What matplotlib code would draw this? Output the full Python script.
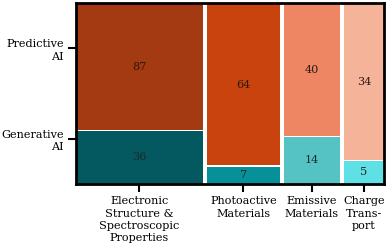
import numpy as np
import matplotlib.pyplot as plt

categories = ['Electronic\nStructure &\nSpectroscopic\nProperties',
              'Photoactive\nMaterials', 'Emissive\nMaterials', 'Charge\nTrans-\nport']
generative = [36, 7, 14, 5]
predictive = [87, 64, 40, 34]
row_labels = ['Generative\nAI', 'Predictive\nAI']

gen_colors = ['#03595f', '#06909a', '#55c3c3', '#5ee0e4']
pred_colors = ['#a33a12', '#c9430e', '#ee8563', '#f5b39a']

plt.rcParams['font.family'] = 'DejaVu Serif'
fs = 8.1

fig = plt.figure(figsize=(3.87, 2.47), dpi=100)
ax = fig.add_axes([0.197, 0.256, 0.795, 0.731])

gen = np.array(generative, float)
pred = np.array(predictive, float)
tot = gen + pred
xgap = 0.014
ygap = 0.006
widths = (1 - xgap * (len(tot) - 1)) * tot / tot.sum()
lefts = np.concatenate([[0], np.cumsum(widths + xgap)[:-1]])

for i in range(len(tot)):
    fg = gen[i] / tot[i]
    ax.bar(lefts[i], fg - ygap / 2, width=widths[i], bottom=0, align='edge',
           color=gen_colors[i], linewidth=0)
    ax.bar(lefts[i], 1 - fg - ygap / 2, width=widths[i], bottom=fg + ygap / 2,
           align='edge', color=pred_colors[i], linewidth=0)
    cx = lefts[i] + widths[i] / 2
    ax.text(cx, fg / 2, str(generative[i]), ha='center', va='center',
            fontsize=fs, color='#1a2a2a')
    ax.text(cx, fg + (1 - fg) / 2, str(predictive[i]), ha='center', va='center',
            fontsize=fs, color='#2a1a10')

ax.set_xlim(0, 1)
ax.set_ylim(0, 1)
ax.set_xticks(lefts + widths / 2)
ax.set_xticklabels(categories, fontsize=fs, linespacing=1.3)
ax.set_yticks([0.25, 0.75])
ax.set_yticklabels(row_labels, fontsize=fs, linespacing=1.3, multialignment='right')
ax.tick_params(length=6, width=1.5, pad=3)
for s in ax.spines.values():
    s.set_linewidth(2)

fig.savefig('out.png', dpi=100)
